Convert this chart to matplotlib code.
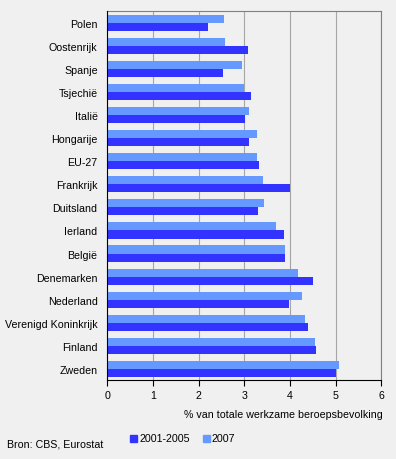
import matplotlib
matplotlib.use("Agg")
import matplotlib.pyplot as plt
import numpy as np
from matplotlib.patches import Rectangle

plt.rcParams["font.family"] = ["Liberation Sans", "DejaVu Sans"]

# data
landen = ["Polen", "Oostenrijk", "Spanje", "Tsjechië", "Italië", "Hongarije",
          "EU-27", "Frankrijk", "Duitsland", "Ierland", "België", "Denemarken",
          "Nederland", "Verenigd Koninkrijk", "Finland", "Zweden"]
waarde_2001_2005 = [2.20, 3.08, 2.53, 3.15, 3.01, 3.10, 3.32, 4.00,
                    3.30, 3.87, 3.89, 4.50, 3.98, 4.39, 4.57, 5.01]
waarde_2007 = [2.55, 2.58, 2.95, 2.99, 3.10, 3.28, 3.28, 3.41,
               3.43, 3.69, 3.89, 4.18, 4.26, 4.33, 4.55, 5.07]
xticks = [0, 1, 2, 3, 4, 5, 6]

donker = "#3333ff"
licht = "#6699ff"
achtergrond = "#f0f0f0"
fs = 7.7

fig = plt.figure(figsize=(3.96, 4.60), dpi=100, facecolor=achtergrond)
ax = fig.add_axes([0.271, 0.171, 0.692, 0.802], facecolor=achtergrond)

y = np.arange(len(landen))
h = 0.35
ax.barh(y - h / 2, waarde_2007, height=h, color=licht, zorder=3)
ax.barh(y + h / 2, waarde_2001_2005, height=h, color=donker, zorder=3)

ax.set_ylim(len(landen) - 0.5, -0.5)
ax.set_xlim(0, 6)
ax.set_yticks(y)
ax.set_yticklabels(landen, fontsize=fs)
ax.tick_params(axis="y", length=0, pad=7)
ax.set_xticks(xticks)
ax.set_xticklabels([str(t) for t in xticks], fontsize=fs)
ax.tick_params(axis="x", length=4, width=0.8, color="black", pad=3, direction="out")

ax.grid(axis="x", color="#a6a6a6", linewidth=0.8, zorder=0)
for s in ["top", "right"]:
    ax.spines[s].set_color("#808080")
    ax.spines[s].set_linewidth(0.8)
for s in ["left", "bottom"]:
    ax.spines[s].set_color("black")
    ax.spines[s].set_linewidth(0.8)
ax.spines["left"].set_zorder(4)

fig.text(383 / 396, 1 - 415 / 460, "% van totale werkzame beroepsbevolking",
         fontsize=fs, ha="right", va="center")

# legend
for x0, kleur, label in [(130, donker, "2001-2005"), (203, licht, "2007")]:
    fig.patches.append(Rectangle((x0 / 396, 1 - 443 / 460), 7 / 396, 7 / 460,
                                 transform=fig.transFigure, color=kleur))
    fig.text((x0 + 9) / 396, 1 - 439 / 460, label, fontsize=fs, va="center")

fig.text(7 / 396, 1 - 445 / 460, "Bron: CBS, Eurostat", fontsize=fs, va="center")

fig.savefig("out.png", dpi=100, facecolor=achtergrond)
